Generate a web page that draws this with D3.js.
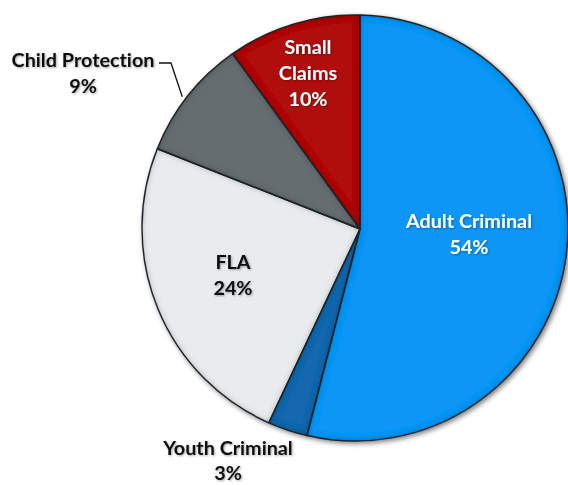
<!DOCTYPE html>
<html>
<head>
<meta charset="utf-8">
<script src="https://cdn.jsdelivr.net/npm/d3@7"></script>
<style>
  html, body { margin: 0; padding: 0; background: #fff; }
  svg { display: block; }
  text { font-family: Lato, "Open Sans", sans-serif; font-weight: 700; font-size: 19.8px;
         font-variant-ligatures: none; font-feature-settings: "liga" 0; }
</style>
</head>
<body>
<svg id="chart" width="568" height="485"></svg>
<script>
// Case share by court category (percent), clockwise from 12 o'clock
const categories = ["Adult Criminal", "Youth Criminal", "FLA", "Child Protection", "Small Claims"];
const shares = [54, 3, 24, 9, 10];
const pctLabels = ["54%", "3%", "24%", "9%", "10%"];
const sliceColors = ["#0a96f6", "#1267ae", "#e9ecee", "#656d71", "#b00c0c"];
const textColors = ["#ffffff", "#111111", "#111111", "#111111", "#ffffff"];

const width = 568, height = 485;
// outer rim circle, and the point where the slices meet
const rimX = 355, rimY = 228, radius = 213;
const apexX = 360, apexY = 229;

const svg = d3.select("#chart");
const defs = svg.append("defs");

// soft outer shadow
const drop = defs.append("filter").attr("id", "drop")
  .attr("x", "-10%").attr("y", "-10%").attr("width", "120%").attr("height", "120%");
drop.append("feGaussianBlur").attr("in", "SourceAlpha").attr("stdDeviation", 2.5).attr("result", "b");
drop.append("feOffset").attr("in", "b").attr("dx", 2).attr("dy", 2).attr("result", "o");
drop.append("feComponentTransfer").attr("in", "o").attr("result", "s")
  .append("feFuncA").attr("type", "linear").attr("slope", 0.5);
const dm = drop.append("feMerge");
dm.append("feMergeNode").attr("in", "s");
dm.append("feMergeNode").attr("in", "SourceGraphic");

// inner bevel: darken just inside each slice edge
const bevel = defs.append("filter").attr("id", "bevel")
  .attr("x", "-5%").attr("y", "-5%").attr("width", "110%").attr("height", "110%");
bevel.append("feGaussianBlur").attr("in", "SourceAlpha").attr("stdDeviation", 3).attr("result", "blur");
bevel.append("feComposite").attr("in", "SourceAlpha").attr("in2", "blur")
  .attr("operator", "arithmetic").attr("k2", 1).attr("k3", -1).attr("result", "edge");
bevel.append("feFlood").attr("flood-color", "#000").attr("flood-opacity", 0.6).attr("result", "col");
bevel.append("feComposite").attr("in", "col").attr("in2", "edge").attr("operator", "in").attr("result", "shade");
const bm = bevel.append("feMerge");
bm.append("feMergeNode").attr("in", "SourceGraphic");
bm.append("feMergeNode").attr("in", "shade");

// text shadow
const ts = defs.append("filter").attr("id", "tshadow")
  .attr("x", "-10%").attr("y", "-20%").attr("width", "120%").attr("height", "140%");
ts.append("feGaussianBlur").attr("in", "SourceAlpha").attr("stdDeviation", 1).attr("result", "b");
ts.append("feOffset").attr("in", "b").attr("dx", 1).attr("dy", 1).attr("result", "o");
ts.append("feComponentTransfer").attr("in", "o").attr("result", "s")
  .append("feFuncA").attr("type", "linear").attr("slope", 0.35);
const tm = ts.append("feMerge");
tm.append("feMergeNode").attr("in", "s");
tm.append("feMergeNode").attr("in", "SourceGraphic");

const data = categories.map((c, i) => ({ name: c, value: shares[i], pct: pctLabels[i], i }));

const pie = d3.pie().value(d => d.value).sort(null);
const arcs = pie(data);

// where a ray from the apex at pie angle a meets the rim circle
function rimHit(a) {
  const ux = Math.sin(a), uy = -Math.cos(a);
  const px = apexX - rimX, py = apexY - rimY;
  const b = px * ux + py * uy;
  const c = px * px + py * py - radius * radius;
  const t = -b + Math.sqrt(b * b - c);
  const x = apexX + t * ux, y = apexY + t * uy;
  return { x, y, ang: Math.atan2(y - rimY, x - rimX) };
}

function slicePath(d) {
  const s = rimHit(d.startAngle), e = rimHit(d.endAngle);
  let a0 = s.ang, a1 = e.ang;
  while (a1 < a0) a1 += 2 * Math.PI;
  const p = d3.path();
  p.moveTo(apexX, apexY);
  p.lineTo(s.x, s.y);
  p.arc(rimX, rimY, radius, a0, a1, false);
  p.closePath();
  return p.toString();
}

const shadowLayer = svg.append("g").attr("filter", "url(#drop)");
shadowLayer.selectAll("path.slice")
  .data(arcs)
  .join("path")
  .attr("class", "slice")
  .attr("d", slicePath)
  .attr("fill", d => sliceColors[d.data.i])
  .attr("filter", "url(#bevel)");

shadowLayer.selectAll("path.outline")
  .data(arcs)
  .join("path")
  .attr("class", "outline")
  .attr("d", slicePath)
  .attr("fill", "none")
  .attr("stroke", "#1e2226")
  .attr("stroke-width", 1.4)
  .attr("stroke-linejoin", "round");

// label anchors (x centre, first baseline, line step)
const labelLayout = {
  "Adult Criminal": { x: 469, y: 228, step: 26 },
  "Small Claims": { x: 308, y: 54, step: 26, lines: ["Small", "Claims"] },
  "FLA": { x: 233, y: 269, step: 26 },
  "Youth Criminal": { x: 228, y: 455, step: 25 },
  "Child Protection": { x: 83, y: 67, step: 26 }
};

arcs.forEach(a => {
  const d = a.data;
  const lay = labelLayout[d.name];
  const lines = (lay.lines || [d.name]).concat([d.pct]);
  const t = svg.append("text")
    .attr("text-anchor", "middle")
    .attr("fill", textColors[d.i])
    .attr("filter", "url(#tshadow)");
  lines.forEach((ln, k) => {
    t.append("tspan").attr("x", lay.x).attr("y", lay.y + k * lay.step).text(ln);
  });
});

// leader line for the Child Protection label
const cp = arcs.find(a => a.data.name === "Child Protection");
const hit = rimHit((cp.startAngle + cp.endAngle) / 2 - 0.02);
const ex = rimX + Math.cos(hit.ang) * (radius + 4);
const ey = rimY + Math.sin(hit.ang) * (radius + 4);
svg.append("path")
  .attr("d", d3.line()([[159, 63], [171, 63], [ex, ey]]))
  .attr("fill", "none")
  .attr("stroke", "#111")
  .attr("stroke-width", 1.3);
</script>
</body>
</html>
